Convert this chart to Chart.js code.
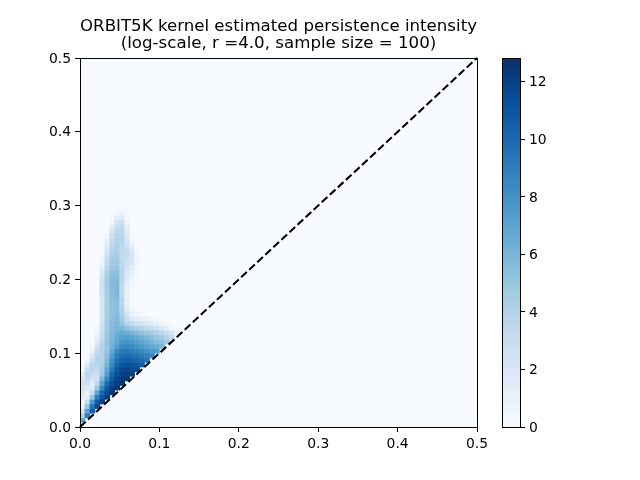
<!DOCTYPE html>
<html>
<head>
<meta charset="utf-8">
<script src="https://cdn.jsdelivr.net/npm/chart.js@4"></script>
<style>
html,body{margin:0;padding:0;background:#fff;width:640px;height:480px;overflow:hidden}
canvas{position:absolute;left:0;top:0}
</style>
</head>
<body>
<canvas id="main" width="640" height="480"></canvas>
<canvas id="bar" width="640" height="480"></canvas>
<script>
const titleLines = ["ORBIT5K kernel estimated persistence intensity", "(log-scale, r =4.0, sample size = 100)"];
const axisTicks = [0, 0.1, 0.2, 0.3, 0.4, 0.5];
const colorbarTicks = [0, 2, 4, 6, 8, 10, 12];
const colorbarMax = 12.83;
const cellSize = 0.00625;
const diagonal = [{x: 0, y: 0}, {x: 0.5, y: 0.5}];
const blues = ["#f7fbff", "#deebf7", "#c6dbef", "#9ecae1", "#6baed6", "#4292c6", "#2171b5", "#08519c", "#08306b"];
// Intensity per grid row (bottom row first), each row listed from the left-most column.
const heatRows = [
  [],
  [7],
  [4,9],
  [2,7,10.5],
  [0.8,5,9.5,11.5],
  [0.5,3,7.5,10.5,12],
  [1.5,1.2,5,9,11,12.2],
  [2,1,3,7,10,11.6,12.4],
  [2.2,1.8,1.5,5,8.5,10.8,12,12.6],
  [2.4,2.8,1.4,3.5,7,9.8,11.4,12.2,12.7],
  [2,3.3,2.4,2.5,5.8,8.6,10.6,11.8,12.3,12.5],
  [1.2,3.6,3.2,2.6,4.8,7.4,10,11.2,12,12.2,12.2],
  [0.5,3,3.8,3.2,4.4,6.8,9.2,10.8,11.6,11.8,11.6,11.4],
  [0.1,1.6,3.6,3.7,4.2,6.1,8.4,10.2,11.1,11.3,11.1,10.9,10.6],
  [0,0.6,2.8,4,4,5.8,8,9.6,10.4,10.6,10.4,10.2,9.9,9.6],
  [0,0.2,1.8,3.7,4,5.4,7.4,9.1,9.7,9.9,9.7,9.5,9.2,8.9,8.6],
  [0,0,0.9,3.1,4,5.1,6.8,8.4,9.1,9.3,9.1,8.8,8.4,8,7.7,7.4],
  [0,0,0.4,2.4,3.9,5,6.2,7.4,8.3,8.6,8.4,7.9,7.5,7.1,6.7,6.4,6],
  [0,0,0.1,1.6,3.6,5,6,6.9,7.6,7.9,7.7,7.3,6.9,6.5,6.1,5.7,5.3,4.8],
  [0,0,0,1,3.2,4.9,5.8,6.6,7.1,7.2,7,6.6,6.2,5.8,5.4,5,4.6,4,3.3],
  [0,0,0,0.6,3,4.8,5.7,6.3,6.6,6.4,6,5.6,5.2,4.8,4.4,4,3.6,3,2.1,1],
  [0,0,0,0.3,2.7,4.7,5.6,6,5.9,5.3,4.6,4.2,3.8,3.4,3,2.6,2,1.2,0.5,0.1],
  [0,0,0,0.1,2.5,4.6,5.5,5.8,5.1,4,3.2,2.6,2.2,1.9,1.5,1.1,0.6,0.2],
  [0,0,0,0,2.2,4.5,5.4,5.7,4.6,3,2,1.4,1.1,0.8,0.5,0.2],
  [0,0,0,0,2,4.4,5.3,5.6,4.2,2.3,1,0.5,0.2],
  [0,0,0,0,1.9,4.3,5.2,5.5,3.9,1.6,0.4],
  [0,0,0,0,2,4.2,5.2,5.4,3.7,1.2,0.2],
  [0,0,0,0,2.2,4.2,5.2,5.5,3.8,1.2,0.2],
  [0,0,0,0,2.4,4.3,5.4,5.7,3.5,1,0.2],
  [0,0,0,0,2.5,4.4,5.5,5.8,3.4,1,0.2],
  [0,0,0,0,2.6,4.5,5.6,5.9,3.4,1.2,0.3],
  [0,0,0,0,2.6,4.6,5.7,5.8,3.6,1.5,0.5],
  [0,0,0,0,2.3,4.4,5.5,5.6,3.8,1.8,0.8,0.2],
  [0,0,0,0,1.8,4.1,5.2,5.4,3.8,2,1,0.2],
  [0,0,0,0,1.2,3.6,4.9,5.1,3.6,2.4,1.4,0.4],
  [0,0,0,0,0.8,3.2,4.7,4.8,3.6,2.6,2,0.6],
  [0,0,0,0,0.5,3,4.5,4.6,3.4,2.8,2.2,0.6],
  [0,0,0,0,0.2,2.5,4.2,4.4,3.4,3,2.2,0.5],
  [0,0,0,0,0,2,3.9,4.3,3.4,3,1.8,0.3],
  [0,0,0,0,0,1.5,3.6,4.1,3.6,2.6,1,0.1],
  [0,0,0,0,0,1,3.2,4,3.8,2.2,0.4],
  [0,0,0,0,0,0.6,2.8,3.8,3.8,1.8,0.2],
  [0,0,0,0,0,0.3,2.2,3.4,3.6,1.4],
  [0,0,0,0,0,0,1.4,3,3.4,1],
  [0,0,0,0,0,0,0.6,2.2,2.8,0.8],
  [0,0,0,0,0,0,0.2,1.2,1.6,0.5],
  [0,0,0,0,0,0,0,0.5,0.8,0.2],
  [0,0,0,0,0,0,0,0.2,0.3]
];

function hexToRgb(h){return [1,3,5].map(i=>parseInt(h.substr(i,2),16));}
function colorFor(v){
  const t = Math.min(1, Math.max(0, v / colorbarMax)) * (blues.length - 1);
  const i = Math.min(blues.length - 2, Math.floor(t));
  const a = hexToRgb(blues[i]), b = hexToRgb(blues[i+1]), f = t - i;
  return `rgb(${a.map((c,k)=>Math.round(c+(b[k]-c)*f)).join(",")})`;
}
const cells = [];
heatRows.forEach((row, j) => row.forEach((v, i) => {
  if (v > 0) cells.push({x: (i + 0.5) * cellSize, y: [j * cellSize, (j + 1) * cellSize], v});
}));

const FONT = "'DejaVu Sans'";
// Matplotlib centres tick labels about 1px lower than canvas "middle" baseline.
function nudgeLabels(s){
  if (s._nudged) return;
  s._nudged = true;
  const orig = s._computeLabelItems;
  s._computeLabelItems = function(a){
    const items = orig.call(this, a);
    items.forEach(it => { it.options.translation = [it.options.translation[0], it.options.translation[1] + 1]; });
    return items;
  };
}
const frame = {
  id: 'frame',
  beforeDatasetsDraw(c){
    if (c.canvas.id !== 'main') return;
    const a = c.chartArea, g = c.ctx;
    g.save(); g.fillStyle = blues[0]; g.fillRect(a.left, a.top, a.width, a.height); g.restore();
  },
  afterDatasetsDraw(c){
    const a = c.chartArea, g = c.ctx;
    g.save(); g.strokeStyle = '#000'; g.lineWidth = 1;
    g.strokeRect(Math.round(a.left)+0.5, Math.round(a.top)+0.5, Math.round(a.width), Math.round(a.height)); g.restore();
  }
};

new Chart(document.getElementById('main'), {
  type: 'bar',
  plugins: [frame],
  data: {datasets: [
    {type:'line', data: diagonal, borderColor:'#000', borderWidth:2.08, borderDash:[7.7,3.3], pointRadius:0, fill:false, order:0, clip:false},
    {type:'bar', data: cells, backgroundColor: c => c.raw ? colorFor(c.raw.v) : blues[0], borderWidth:0, barThickness:5, grouped:false, order:1}
  ]},
  options: {
    responsive:false, animation:false, devicePixelRatio:1,
    layout:{padding:{left:0,right:163,top:0,bottom:0}},
    plugins:{
      legend:{display:false}, tooltip:{enabled:false},
      title:{display:true, text:titleLines, fullSize:false, color:'#000', align:'center',
        font:{family:FONT,size:16.67,weight:'normal',lineHeight:1}, padding:{top:18.5,bottom:6.2}}
    },
    scales:{
      x:{type:'linear', offset:false, min:0, max:0.5, afterBuildTicks:s=>{s.ticks=axisTicks.map(v=>({value:v}));},
        afterFit:s=>{s.height=53;},
        grid:{offset:false,drawOnChartArea:false,drawTicks:true,tickLength:5,tickColor:'#000',tickWidth:1},
        border:{color:'#000',width:1},
        ticks:{color:'#000',padding:4,maxRotation:0,font:{family:FONT,size:13.9},callback:v=>Number(v).toFixed(1)}},
      y:{type:'linear', min:0, max:0.5, afterBuildTicks:s=>{nudgeLabels(s);s.ticks=axisTicks.map(v=>({value:v}));},
        afterFit:s=>{s.width=80;},
        grid:{drawOnChartArea:false,drawTicks:true,tickLength:5,tickColor:'#000',tickWidth:1},
        border:{color:'#000',width:1},
        ticks:{color:'#000',padding:4,font:{family:FONT,size:13.9},callback:v=>Number(v).toFixed(1)}}
    }
  }
});

new Chart(document.getElementById('bar'), {
  type:'bar',
  plugins:[frame],
  data:{labels:['intensity'],datasets:[{
    data:[[0,colorbarMax]], borderWidth:0, barPercentage:1, categoryPercentage:1,
    backgroundColor:c=>{
      const a=c.chart.chartArea; if(!a) return blues[0];
      const g=c.chart.ctx.createLinearGradient(0,a.bottom,0,a.top);
      blues.forEach((h,i)=>g.addColorStop(i/(blues.length-1),h));
      return g;
    }
  }]},
  options:{
    responsive:false, animation:false, devicePixelRatio:1,
    layout:{padding:{left:502,right:0,top:58,bottom:53}},
    plugins:{legend:{display:false},tooltip:{enabled:false},title:{display:false}},
    scales:{
      x:{display:false},
      y:{position:'right',min:0,max:colorbarMax,afterBuildTicks:s=>{nudgeLabels(s);s.ticks=colorbarTicks.map(v=>({value:v}));},
        afterFit:s=>{s.width=120;},
        grid:{drawOnChartArea:false,drawTicks:true,tickLength:5,tickColor:'#000',tickWidth:1},
        border:{color:'#000',width:1},
        ticks:{color:'#000',padding:4,font:{family:FONT,size:13.9},callback:v=>String(v)}}
    }
  }
});
</script>
</body>
</html>
